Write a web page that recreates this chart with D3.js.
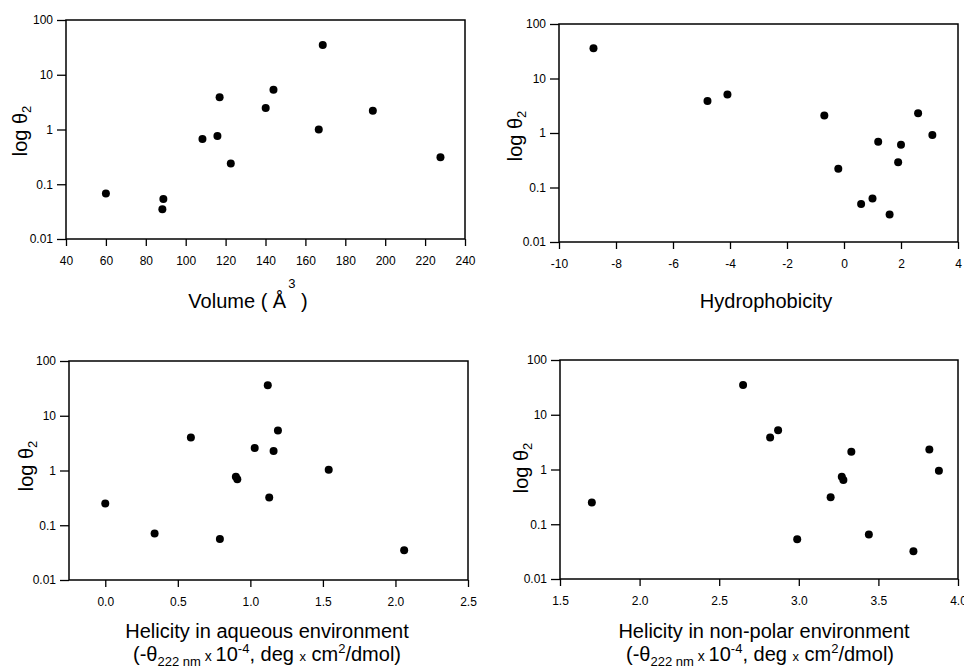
<!DOCTYPE html>
<html>
<head>
<meta charset="utf-8">
<script src="https://cdn.jsdelivr.net/npm/d3@7"></script>
<style>
  html, body { margin: 0; padding: 0; background: #fff; }
  svg { display: block; font-family: "Liberation Sans", Arial, Helvetica, sans-serif; }
</style>
</head>
<body>
<svg id="chart" width="964" height="671"></svg>
<script>
// ---- Data ----
const yTicks = [0.01, 0.1, 1, 10, 100];
const yTickLabels = ["0.01", "0.1", "1", "10", "100"];

const volumeTicks = [40, 60, 80, 100, 120, 140, 160, 180, 200, 220, 240];
const volume = [60, 88.8, 88.3, 108.4, 115.9, 117, 122.6, 140.1, 144, 166.7, 168.7, 193.8, 227.7];
const thetaVolume = [0.068, 0.054, 0.035, 0.67, 0.76, 3.9, 0.24, 2.47, 5.3, 1.0, 35, 2.2, 0.31];

const hydroTicks = [-10, -8, -6, -4, -2, 0, 2, 4];
const hydrophobicity = [-8.79, -4.79, -4.09, -0.69, -0.2, 0.6, 1.0, 1.2, 1.6, 1.9, 2.0, 2.6, 3.1];
const thetaHydro = [36, 3.85, 5.1, 2.1, 0.22, 0.05, 0.063, 0.69, 0.032, 0.29, 0.61, 2.3, 0.92];

const aqueousTicks = [0.0, 0.5, 1.0, 1.5, 2.0, 2.5];
const helicityAqueous = [0.0, 0.34, 0.59, 0.79, 0.9, 0.91, 1.03, 1.12, 1.13, 1.16, 1.19, 1.54, 2.06];
const thetaAqueous = [0.25, 0.071, 4.0, 0.056, 0.77, 0.69, 2.58, 36, 0.32, 2.27, 5.4, 1.03, 0.035];

const nonpolarTicks = [1.5, 2.0, 2.5, 3.0, 3.5, 4.0];
const helicityNonpolar = [1.70, 2.65, 2.82, 2.87, 2.99, 3.20, 3.27, 3.28, 3.33, 3.44, 3.72, 3.82, 3.88];
const thetaNonpolar = [0.25, 35, 3.85, 5.2, 0.053, 0.31, 0.74, 0.64, 2.1, 0.065, 0.032, 2.33, 0.95];

// ---- Layout ----
const svg = d3.select("#chart");
const fmtInt = d => String(d);
const fmt1 = d => d.toFixed(1);

const panels = [
  { x0: 66, x1: 465, y0: 20, y1: 239, domain: [40, 240], ticks: volumeTicks, fmt: fmtInt,
    xs: volume, ys: thetaVolume, ylab: [20, 131], title: "volume", tx: 248, ty: 308 },
  { x0: 559, x1: 958, y0: 24, y1: 242, domain: [-10, 4], ticks: hydroTicks, fmt: fmtInt,
    xs: hydrophobicity, ys: thetaHydro, ylab: [515, 136], title: "hydro", tx: 766, ty: 308 },
  { x0: 69, x1: 468, y0: 361, y1: 580, domain: [-0.25, 2.5], ticks: aqueousTicks, fmt: fmt1,
    xs: helicityAqueous, ys: thetaAqueous, ylab: [26, 466], title: "aqueous", tx: 267, ty: 638 },
  { x0: 560, x1: 958, y0: 360, y1: 579, domain: [1.5, 4.0], ticks: nonpolarTicks, fmt: fmt1,
    xs: helicityNonpolar, ys: thetaNonpolar, ylab: [521, 468], title: "nonpolar", tx: 764, ty: 638 }
];

panels.forEach(p => {
  const x = d3.scaleLinear().domain(p.domain).range([p.x0, p.x1]);
  const y = d3.scaleLog().domain([0.01, 100]).range([p.y1, p.y0]);
  const g = svg.append("g");

  const xa = g.append("g")
    .attr("transform", `translate(0,${p.y1})`)
    .call(d3.axisBottom(x).tickValues(p.ticks).tickFormat(p.fmt).tickSize(7).tickPadding(10));
  const ya = g.append("g")
    .attr("transform", `translate(${p.x0},0)`)
    .call(d3.axisLeft(y).tickValues(yTicks).tickFormat((d, i) => yTickLabels[i]).tickSize(9).tickPadding(4));
  [xa, ya].forEach(a => {
    a.select(".domain").remove();
    a.selectAll("line").attr("stroke", "#000").attr("stroke-width", 1.3);
    a.selectAll("text").attr("fill", "#000").style("font-size", "12px")
      .style("font-family", '"Liberation Sans", Arial, Helvetica, sans-serif');
  });

  g.append("rect")
    .attr("x", p.x0).attr("y", p.y0)
    .attr("width", p.x1 - p.x0).attr("height", p.y1 - p.y0)
    .attr("fill", "none").attr("stroke", "#000").attr("stroke-width", 1.5);

  g.selectAll("circle.pt").data(p.xs.map((v, i) => [v, p.ys[i]]))
    .enter().append("circle")
    .attr("class", "pt")
    .attr("cx", d => x(d[0])).attr("cy", d => y(d[1]))
    .attr("r", 4).attr("fill", "#000");

  // y label
  const yl = g.append("text")
    .attr("transform", `translate(${p.ylab[0]},${p.ylab[1]}) rotate(-90)`)
    .attr("text-anchor", "middle").attr("dy", "0.35em")
    .style("font-size", "20px").attr("fill", "#000");
  yl.append("tspan").text("log θ");
  yl.append("tspan").text("2").style("font-size", "13px").attr("dy", 4);

  // x title
  const t = g.append("text").attr("x", p.tx).attr("y", p.ty)
    .attr("text-anchor", "middle").style("font-size", "20px").attr("fill", "#000");
  if (p.title === "volume") {
    t.append("tspan").text("Volume ( Å");
    t.append("tspan").text("3").style("font-size", "13px").attr("dy", -20).attr("dx", 2);
    t.append("tspan").text(" )").attr("dy", 20);
  } else if (p.title === "hydro") {
    t.text("Hydrophobicity");
  } else {
    t.text(p.title === "aqueous" ? "Helicity in aqueous environment" : "Helicity in non-polar environment");
    const t2 = g.append("text").attr("x", p.tx - (p.title === "aqueous" ? 0 : 4)).attr("y", p.ty + 23)
      .attr("text-anchor", "middle").style("font-size", "20px").attr("fill", "#000");
    t2.append("tspan").text("(-θ");
    t2.append("tspan").text("222 nm").style("font-size", "13px").attr("dy", 5);
    t2.append("tspan").text(" x ").style("font-size", "14px").attr("dy", -5);
    t2.append("tspan").text("10");
    t2.append("tspan").text("-4").style("font-size", "13px").attr("dy", -8);
    t2.append("tspan").text(", deg ").attr("dy", 8);
    t2.append("tspan").text("x").style("font-size", "13px");
    t2.append("tspan").text(" cm");
    t2.append("tspan").text("2").style("font-size", "13px").attr("dy", -8);
    t2.append("tspan").text("/dmol)").attr("dy", 8);
  }
});
</script>
</body>
</html>
